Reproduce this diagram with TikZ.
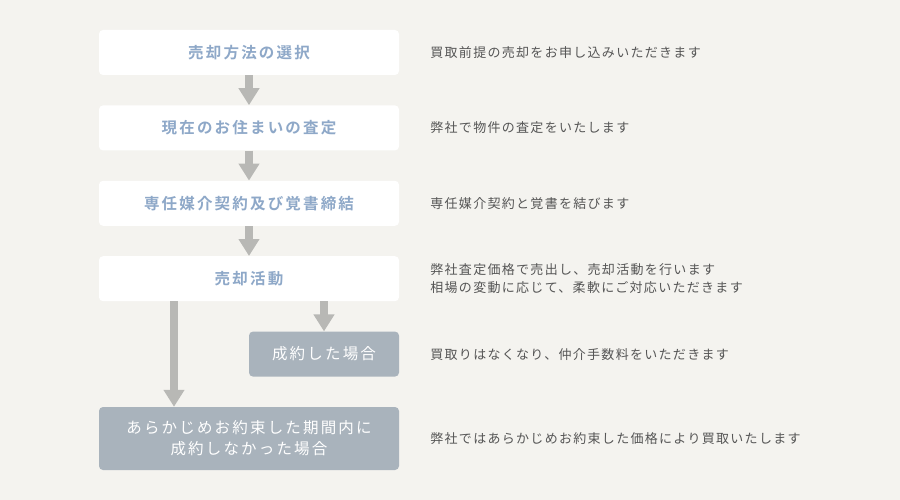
\documentclass[tikz,border=0pt]{standalone}
\usepackage{fontspec}
\setmainfont{Noto Sans CJK JP}[BoldFont={Noto Sans CJK JP Bold}]
\newfontfamily\stepfont{Noto Sans CJK JP Bold}[LetterSpace=14]
\newfontfamily\resultfont{Noto Sans CJK JP}[LetterSpace=14]
\newfontfamily\notefont{Noto Sans CJK JP}[LetterSpace=10]
\usetikzlibrary{positioning,arrows.meta}
\definecolor{paper}{HTML}{F4F3EF}
\definecolor{stepblue}{HTML}{8EA8C8}
\definecolor{resultgray}{HTML}{A9B3BC}
\definecolor{arrowgray}{HTML}{B8B8B5}
\definecolor{notegray}{HTML}{555555}

\begin{document}
\begin{tikzpicture}[
  x=1pt, y=1pt,
  stepbox/.style={rectangle, rounded corners=4pt, fill=white, text=stepblue, font=\stepfont\fontsize{15.5}{18}\selectfont, minimum width=300pt, minimum height=45pt, inner sep=0pt},
  result/.style={stepbox, fill=resultgray, text=white, align=center, font=\resultfont\fontsize{15.5}{21}\selectfont},
  note/.style={text=notegray, font=\notefont\fontsize{13}{17.5}\selectfont, align=left, inner sep=0pt},
  flow/.style={draw=arrowgray, line width=8pt, -{Triangle[width=20pt,length=17pt]}},
  node distance=30pt
]
\fill[paper] (0,0) rectangle (900,-500);

\node[stepbox] (select) at (249,-52.5) {売却方法の選択};
\node[stepbox, below=of select] (assess) {現在のお住まいの査定};
\node[stepbox, below=of assess] (contract) {専任媒介契約及び覚書締結};
\node[stepbox, below=of contract] (sale) {売却活動};
\node[result, minimum width=150pt, below=of sale.south east, anchor=north east] (sold) {成約した場合};
\node[result, minimum height=63pt, anchor=north, yshift=-30pt] (buyback) at (sale.south |- sold.south) {あらかじめお約束した期間内に\\成約しなかった場合};

\node[note, right=31pt of select, anchor=west] (selectnote) {買取前提の売却をお申し込みいただきます};
\node[note, right=31pt of assess, anchor=west] (assessnote) {弊社で物件の査定をいたします};
\node[note, right=31pt of contract, anchor=west] (contractnote) {専任媒介契約と覚書を結びます};
\node[note, right=31pt of sale, anchor=west] (salenote) {弊社査定価格で売出し、売却活動を行います\\相場の変動に応じて、柔軟にご対応いただきます};
\node[note, right=31pt of sold, anchor=west] (soldnote) {買取りはなくなり、仲介手数料をいただきます};
\node[note, right=31pt of buyback, anchor=west] (buybacknote) {弊社ではあらかじめお約束した価格により買取いたします};

\draw[flow] (select) -- (assess);
\draw[flow] (assess) -- (contract);
\draw[flow] (contract) -- (sale);
\draw[flow] (sold.north |- sale.south) -- (sold);
\draw[flow] ([xshift=-75pt]sale.south) -- ([xshift=-75pt]buyback.north);
\end{tikzpicture}
\end{document}
